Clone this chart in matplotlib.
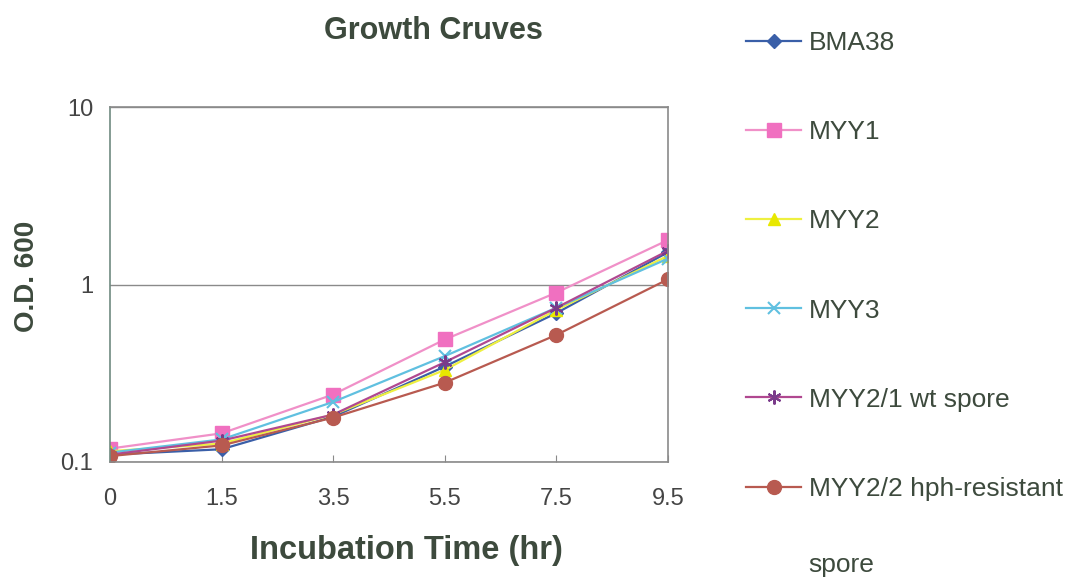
import matplotlib.pyplot as plt
from matplotlib.ticker import NullLocator, FixedLocator

# Growth curves, O.D. 600 on a log scale
times = ['0', '1.5', '3.5', '5.5', '7.5', '9.5']

bma38 = [0.110, 0.118, 0.180, 0.345, 0.69, 1.52]
myy1 = [0.119, 0.145, 0.240, 0.49, 0.90, 1.78]
myy2 = [0.115, 0.127, 0.185, 0.33, 0.72, 1.45]
myy3 = [0.113, 0.134, 0.218, 0.395, 0.74, 1.40]
myy2_1 = [0.110, 0.132, 0.185, 0.365, 0.74, 1.55]
myy2_2 = [0.108, 0.124, 0.178, 0.28, 0.52, 1.07]

series_names = ['BMA38', 'MYY1', 'MYY2', 'MYY3', 'MYY2/1 wt spore', 'MYY2/2 hph-resistant']

plt.rcParams['font.family'] = ['Liberation Sans', 'DejaVu Sans']
text_col = '#3d4a3d'

fig = plt.figure(figsize=(10.66, 5.78), dpi=100)
ax = fig.add_axes([110 / 1066, 1 - 462 / 578, 558 / 1066, 355 / 578])

xs = list(range(len(times)))
styles = [
    dict(color='#3a5fa8', marker='D', ms=7, mfc='#3a5fa8', mec='#3a5fa8'),
    dict(color='#f090c8', marker='s', ms=10, mfc='#f070c0', mec='#f070c0'),
    dict(color='#eef040', marker='^', ms=9, mfc='#e8e800', mec='#e8e800'),
    dict(color='#60c0e0', marker='x', ms=9, mfc='none', mec='#60c0e0', mew=1.5),
    dict(color='#b04890', marker=(6, 2, 0), ms=10, mfc='none', mec='#7a3a8a', mew=1.5),
    dict(color='#b85a50', marker='o', ms=10, mfc='#b85a50', mec='#b85a50'),
]
data = [bma38, myy1, myy2, myy3, myy2_1, myy2_2]
handles = []
for vals, name, st in zip(data, series_names, styles):
    h, = ax.plot(xs, vals, lw=1.6, label=name, **st)
    handles.append(h)

ax.set_yscale('log')
ax.set_ylim(0.1, 10)
ax.set_xlim(0, len(times) - 1)
ax.yaxis.set_major_locator(FixedLocator([0.1, 1, 10]))
ax.yaxis.set_minor_locator(NullLocator())
ax.set_yticklabels(['0.1', '1', '10'])
ax.set_xticks(xs)
ax.set_xticklabels(times)
ax.grid(axis='y', which='major', color='#8a8a8a', lw=1.0)
ax.set_axisbelow(True)

for s in ax.spines.values():
    s.set_color('#8a8a8a')
    s.set_linewidth(1.2)
ax.spines['left'].set_color('#6f8a80')

ax.tick_params(axis='x', direction='in', length=5, color='#8a8a8a', pad=19,
               labelsize=17, labelcolor='#444444')
ax.tick_params(axis='y', length=0, pad=12, labelsize=17, labelcolor='#444444')

fig.text(433 / 1066, 1 - 31 / 578, 'Growth Cruves', ha='center', va='center',
         fontsize=22, fontweight='bold', color=text_col)
fig.text(406 / 1066, 1 - 550 / 578, 'Incubation Time (hr)', ha='center', va='center',
         fontsize=23.5, fontweight='bold', color=text_col)
fig.text(27 / 1066, 1 - 276 / 578, 'O.D. 600', ha='center', va='center', rotation=90,
         fontsize=20, fontweight='bold', color=text_col)

leg = fig.legend(handles=handles, loc='upper left', bbox_to_anchor=(746 / 1066, 1 - 31 / 578),
                 frameon=False, fontsize=19, labelspacing=2.47, handlelength=2.1,
                 handletextpad=0.27, borderpad=0, borderaxespad=0)
for t in leg.get_texts():
    t.set_color(text_col)
fig.text(808 / 1066, 1 - 565 / 578, 'spore', ha='left', va='center',
         fontsize=19, color=text_col)

fig.savefig('out.png', dpi=100)
